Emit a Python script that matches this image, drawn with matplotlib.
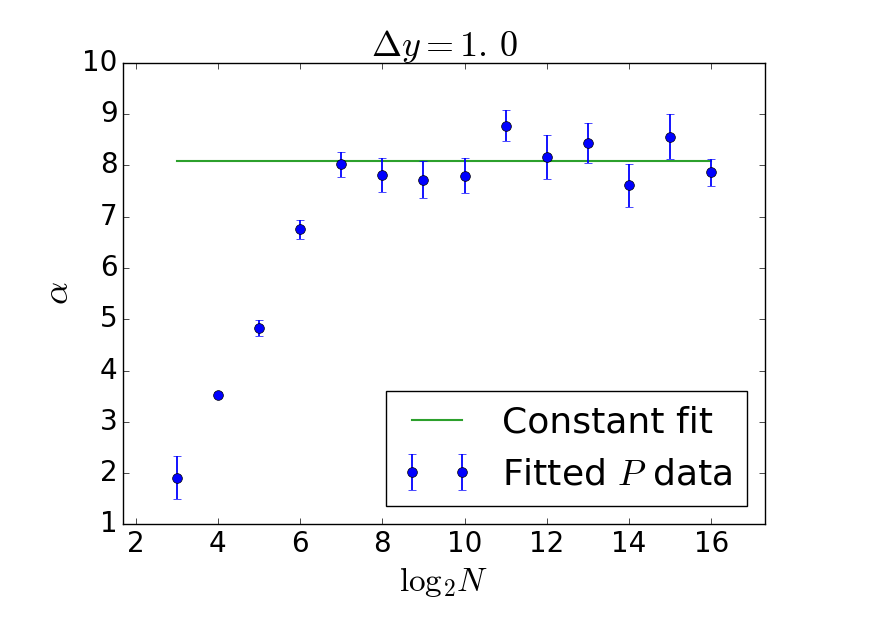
import matplotlib
matplotlib.use("Agg")
import matplotlib.pyplot as plt
import numpy as np

plt.style.use('classic')

log2N = [3, 4, 5, 6, 7, 8, 9, 10, 11, 12, 13, 14, 15, 16]
alpha = [1.91, 3.53, 4.83, 6.75, 8.02, 7.81, 7.72, 7.80, 8.77, 8.16, 8.43, 7.61, 8.56, 7.86]
alpha_err = [0.42, 0.05, 0.15, 0.18, 0.24, 0.33, 0.36, 0.345, 0.30, 0.43, 0.39, 0.42, 0.44, 0.27]
const_fit = 8.08

fig = plt.figure(figsize=(8.72, 6.17), dpi=100)
fig.patch.set_facecolor('white')
ax = fig.add_axes([0.1414, 0.150, 0.7356, 0.7485])

ax.plot([log2N[0], log2N[-1]], [const_fit, const_fit], color='#2ca02c', lw=1.5,
        label='Constant fit', zorder=2)
ax.errorbar(log2N, alpha, yerr=alpha_err, fmt='o', color='blue', ecolor='blue',
            markersize=7, capsize=3, elinewidth=1.3, label=r'Fitted $P$ data', zorder=3)

ax.set_xlim(1.7, 17.3)
ax.set_ylim(1, 10)
ax.set_xticks([2, 4, 6, 8, 10, 12, 14, 16])
ax.set_yticks(range(1, 11))
ax.tick_params(labelsize=20)
ax.set_xlabel(r'$\mathrm{log}_2N$', fontsize=24)
ax.set_ylabel(r'$\alpha$', fontsize=26)
ax.set_title(r'$\Delta y = 1.\,0$', fontsize=26)
ax.legend(loc='lower right', fontsize=26, numpoints=2)

fig.savefig('out.png', dpi=100, facecolor='white')
